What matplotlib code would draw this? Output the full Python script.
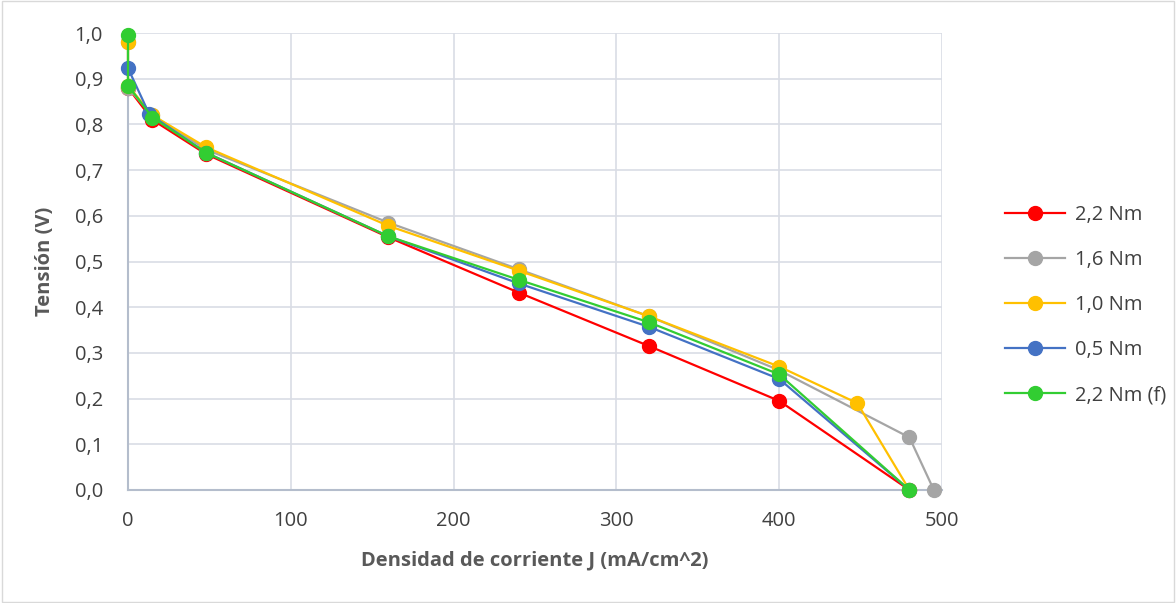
import matplotlib.pyplot as plt
from matplotlib.ticker import FuncFormatter

plt.rcParams['font.family'] = ['Open Sans', 'DejaVu Sans']

# 2,2 Nm
x_red = [0, 15, 48, 160, 240, 320, 400, 480]
y_red = [0.88, 0.81, 0.735, 0.553, 0.432, 0.315, 0.195, 0.0]
# 1,6 Nm
x_gray = [0, 0, 15, 48, 160, 240, 320, 400, 480, 495]
y_gray = [0.98, 0.88, 0.82, 0.745, 0.585, 0.483, 0.38, 0.262, 0.115, 0.0]
# 1,0 Nm
x_yel = [0, 0, 15, 48, 160, 240, 320, 400, 448, 480]
y_yel = [0.98, 0.885, 0.82, 0.75, 0.578, 0.48, 0.38, 0.27, 0.19, 0.0]
# 0,5 Nm
x_blue = [0, 13, 48, 160, 240, 320, 400, 480]
y_blue = [0.923, 0.823, 0.738, 0.555, 0.452, 0.357, 0.243, 0.0]
# 2,2 Nm (f)
x_green = [0, 0, 15, 48, 160, 240, 320, 400, 480]
y_green = [0.995, 0.885, 0.815, 0.738, 0.555, 0.46, 0.367, 0.253, 0.0]

series = [
    (x_red, y_red, '#FF0000', '2,2 Nm'),
    (x_gray, y_gray, '#A5A5A5', '1,6 Nm'),
    (x_yel, y_yel, '#FFC000', '1,0 Nm'),
    (x_blue, y_blue, '#4472C4', '0,5 Nm'),
    (x_green, y_green, '#32CD32', '2,2 Nm (f)'),
]

fig = plt.figure(figsize=(11.76, 6.03), dpi=100)
ax = fig.add_axes([128 / 1176, 1 - 490 / 603, (942 - 128) / 1176, (490 - 33) / 603])

for xs, ys, c, lab in series:
    ax.plot(xs, ys, color=c, lw=1.6, marker='o', ms=10, label=lab, zorder=3, clip_on=False)

ax.set_xlim(0, 500)
ax.set_ylim(0, 1.0)
ax.set_xticks(range(0, 501, 100))
ax.set_yticks([i / 10 for i in range(11)])
ax.yaxis.set_major_formatter(FuncFormatter(lambda v, p: f'{v:.1f}'.replace('.', ',')))
ax.grid(True, color='#D9DDE5', lw=1.2)
ax.set_axisbelow(True)
for s in ['top', 'right']:
    ax.spines[s].set_visible(False)
ax.spines['left'].set_color('#B4BDCC')
ax.spines['bottom'].set_color('#B4BDCC')
ax.spines['left'].set_linewidth(1.5)
ax.spines['bottom'].set_linewidth(1.5)
ax.tick_params(length=0, labelsize=14.5, colors='#404040')
ax.tick_params(axis='x', pad=15)
ax.tick_params(axis='y', pad=18)
ax.set_xlabel('Densidad de corriente J (mA/cm^2)', fontsize=14.5, fontweight='bold', color='#595959', labelpad=14)
ax.set_ylabel('Tensión (V)', fontsize=14.5, fontweight='bold', color='#595959', labelpad=14)

ax.legend(loc='center left', bbox_to_anchor=(1.055, 0.405), frameon=False, fontsize=14.5,
          labelspacing=1.25, handlelength=3.0, handletextpad=0.5, labelcolor='#404040')

fig.patches.append(plt.Rectangle((0.002, 0.002), 0.996, 0.996, transform=fig.transFigure,
                                 fill=False, edgecolor='#D9D9D9', lw=1))
fig.savefig('out.png', dpi=100)
